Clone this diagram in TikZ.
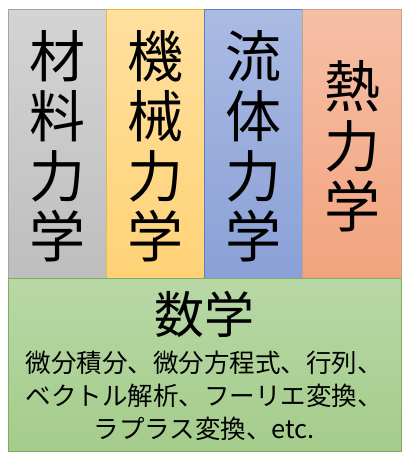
\documentclass[tikz,border=0pt]{standalone}
\usepackage{fontspec}
\newfontfamily\jpfont{Noto Sans CJK JP}

\definecolor{grayTop}{HTML}{D4D4D4}
\definecolor{grayBot}{HTML}{BEBEBE}
\definecolor{grayEdge}{HTML}{A5A5A5}
\definecolor{orangeTop}{HTML}{FFE09E}
\definecolor{orangeBot}{HTML}{FFD277}
\definecolor{orangeEdge}{HTML}{E8B84A}
\definecolor{blueTop}{HTML}{AABBE3}
\definecolor{blueBot}{HTML}{8AA0D6}
\definecolor{blueEdge}{HTML}{5F7FC0}
\definecolor{salmonTop}{HTML}{F6C0A6}
\definecolor{salmonBot}{HTML}{F2A37E}
\definecolor{salmonEdge}{HTML}{C9A08A}
\definecolor{greenTop}{HTML}{B8D8A6}
\definecolor{greenBot}{HTML}{A4CC8B}
\definecolor{greenEdge}{HTML}{7FAE62}

\begin{document}
\begin{tikzpicture}[x=1pt,y=-1pt,
  subject/.style={align=center,font=\jpfont\fontsize{56}{60}\selectfont},
  mathtitle/.style={font=\jpfont\fontsize{50}{50}\selectfont},
  mathlist/.style={align=center,font=\jpfont\fontsize{25.5}{33}\selectfont}]
\fill[white] (0,0) rectangle (409,459);

% columns
\shade[top color=grayTop,bottom color=grayBot,draw=grayEdge,line width=0.6pt] (8,9) rectangle (106,278);
\shade[top color=orangeTop,bottom color=orangeBot,draw=orangeEdge,line width=0.6pt] (106,9) rectangle (204.5,278);
\shade[top color=blueTop,bottom color=blueBot,draw=blueEdge,line width=0.6pt] (204.5,9) rectangle (302.5,278);
\shade[top color=salmonTop,bottom color=salmonBot,draw=salmonEdge,line width=0.6pt] (302.5,9) rectangle (401,278);

% base
\shade[top color=greenTop,bottom color=greenBot,draw=greenEdge,line width=0.6pt] (8,278) rectangle (401,451);

\node[subject] (zairyo) at (57,146) {材\\料\\力\\学};
\node[subject] (kikai) at (155,146) {機\\械\\力\\学};
\node[subject] (ryutai) at (253.5,146) {流\\体\\力\\学};
\node[subject] (netsu) at (352,146) {熱\\力\\学};

\node[mathtitle] (sugaku) at (204.5,314) {数学};
\node[mathlist] (topics) at (204.5,396) {微分積分、微分方程式、行列、\\ベクトル解析、フーリエ変換、\\ラプラス変換、etc.};
\end{tikzpicture}
\end{document}
